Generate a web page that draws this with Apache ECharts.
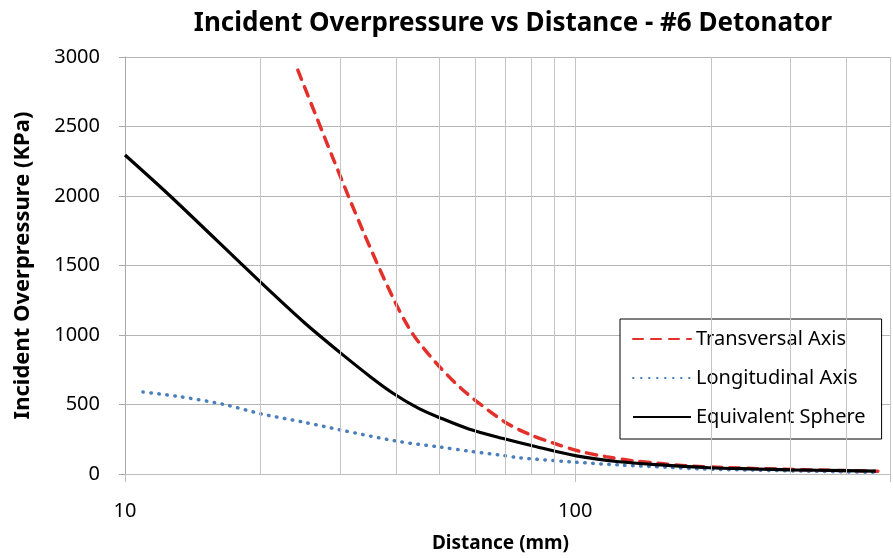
<!DOCTYPE html>
<html>
<head>
<meta charset="utf-8">
<script src="https://cdn.jsdelivr.net/npm/echarts@6/dist/echarts.min.js"></script>
<style>
  html, body { margin: 0; padding: 0; background: #fff; }
  #chart { width: 893px; height: 558px; }
</style>
</head>
<body>
<div id="chart"></div>
<script>
// values
const transX = [24.2, 28.9, 33.7, 39.3, 43.5, 50, 57.3, 69.6, 79, 89.7, 101.8, 117, 133.5, 153, 178, 220, 280, 350, 470];
const transY = [2906, 2280, 1755, 1273, 1010, 770, 583, 376, 286, 221, 165, 125, 96, 77, 58, 45, 35, 28, 20];

const longX = [10.96, 13, 16.5, 20.1, 25, 30, 40, 50, 58, 67.8, 75, 97, 125, 161, 191, 250, 330, 470];
const longY = [590, 560, 502, 432, 372, 318, 237, 194, 165, 137, 117, 88, 65, 48, 36, 28, 20, 12];

const sphereX = [10, 12.6, 20, 25, 30, 35, 39.3, 45, 50, 58, 68.8, 82, 100.6, 125, 155, 198, 250, 300, 400, 465];
const sphereY = [2295, 2000, 1380, 1090, 875, 702, 583, 470, 405, 324, 257, 196, 130, 88, 65, 45, 36, 30, 24, 20];

const minorGridX = [20, 30, 40, 50, 60, 70, 80, 90, 200, 300, 400];
const majorLabels = [10, 100];

const pairs = (xs, ys) => xs.map((x, i) => [x, ys[i]]);
const font = '"Noto Sans", "DejaVu Sans", sans-serif';

const chart = echarts.init(document.getElementById('chart'));

chart.setOption({
  animation: false,
  backgroundColor: '#fff',
  title: {
    text: 'Incident Overpressure vs Distance - #6 Detonator',
    left: 508,
    top: 6,
    textAlign: 'center',
    textStyle: { fontFamily: font, fontWeight: 'bold', fontSize: 26, color: '#000' },
  },
  grid: { left: 125, right: 3, top: 57, bottom: 84 },
  legend: {
    orient: 'vertical',
    left: 620,
    top: 319,
    padding: [10, 16, 12, 12],
    itemWidth: 58,
    itemHeight: 14,
    itemGap: 19,
    backgroundColor: '#fff',
    borderColor: '#000',
    borderWidth: 1,
    itemStyle: { opacity: 0 },
    textStyle: { fontFamily: font, fontSize: 20, color: '#000' },
    data: ['Transversal Axis', 'Longitudinal Axis', 'Equivalent Sphere'],
  },
  xAxis: {
    type: 'log',
    logBase: 10,
    min: 10,
    max: 500,
    name: 'Distance (mm)',
    nameLocation: 'middle',
    nameGap: 60,
    nameTextStyle: { fontFamily: font, fontWeight: 'bold', fontSize: 19, color: '#000', padding: [0, 14, 0, 0] },
    axisLine: { lineStyle: { color: '#bdbdbd', width: 1 } },
    axisTick: { show: true, length: 8, lineStyle: { color: '#bdbdbd' } },
    axisLabel: {
      margin: 27,
      fontFamily: font,
      fontSize: 20,
      color: '#000',
      formatter: (v) => {
        const hit = majorLabels.find((m) => Math.abs(v - m) < 1e-6 * m);
        return hit ? String(hit) : '';
      },
    },
    splitLine: { show: true, lineStyle: { color: '#c4c4c4', width: 1 } },
    minorTick: { show: false },
  },
  yAxis: {
    type: 'value',
    min: 0,
    max: 3000,
    interval: 500,
    name: 'Incident Overpressure (KPa)',
    nameLocation: 'middle',
    nameRotate: 90,
    nameGap: 91,
    nameTextStyle: { fontFamily: font, fontWeight: 'bold', fontSize: 22, color: '#000' },
    axisLine: { show: true, lineStyle: { color: '#aaaaaa', width: 1 } },
    axisTick: { show: true, length: 6, lineStyle: { color: '#aaaaaa' } },
    axisLabel: {
      margin: 25,
      fontFamily: font,
      fontSize: 20,
      color: '#000',
      formatter: (v) => String(v),
    },
    splitLine: { show: true, lineStyle: { color: '#b5b5b5', width: 1 } },
  },
  series: [
    {
      name: 'grid',
      type: 'line',
      data: [],
      silent: true,
      z: 1,
      markLine: {
        silent: true,
        symbol: ['none', 'none'],
        label: { show: false },
        lineStyle: { color: '#c4c4c4', type: 'solid', width: 1 },
        emphasis: { disabled: true },
        data: minorGridX.map((x) => ({ xAxis: x })),
      },
    },
    {
      name: 'Transversal Axis',
      type: 'line',
      showSymbol: false,
      symbol: 'none',
      smooth: 0.3,
      color: '#e3302a',
      lineStyle: { color: '#e3302a', width: 3.5, type: [10, 8], cap: 'round' },
      z: 3,
      data: pairs(transX, transY),
    },
    {
      name: 'Longitudinal Axis',
      type: 'line',
      showSymbol: false,
      symbol: 'none',
      smooth: 0.3,
      color: '#4a7ebb',
      lineStyle: { color: '#4a7ebb', width: 3.5, type: [0.5, 7.5], cap: 'round' },
      z: 3,
      data: pairs(longX, longY),
    },
    {
      name: 'Equivalent Sphere',
      type: 'line',
      showSymbol: false,
      symbol: 'none',
      smooth: 0.3,
      color: '#000',
      lineStyle: { color: '#000', width: 3.2 },
      z: 4,
      data: pairs(sphereX, sphereY),
    },
  ],
});
</script>
</body>
</html>
